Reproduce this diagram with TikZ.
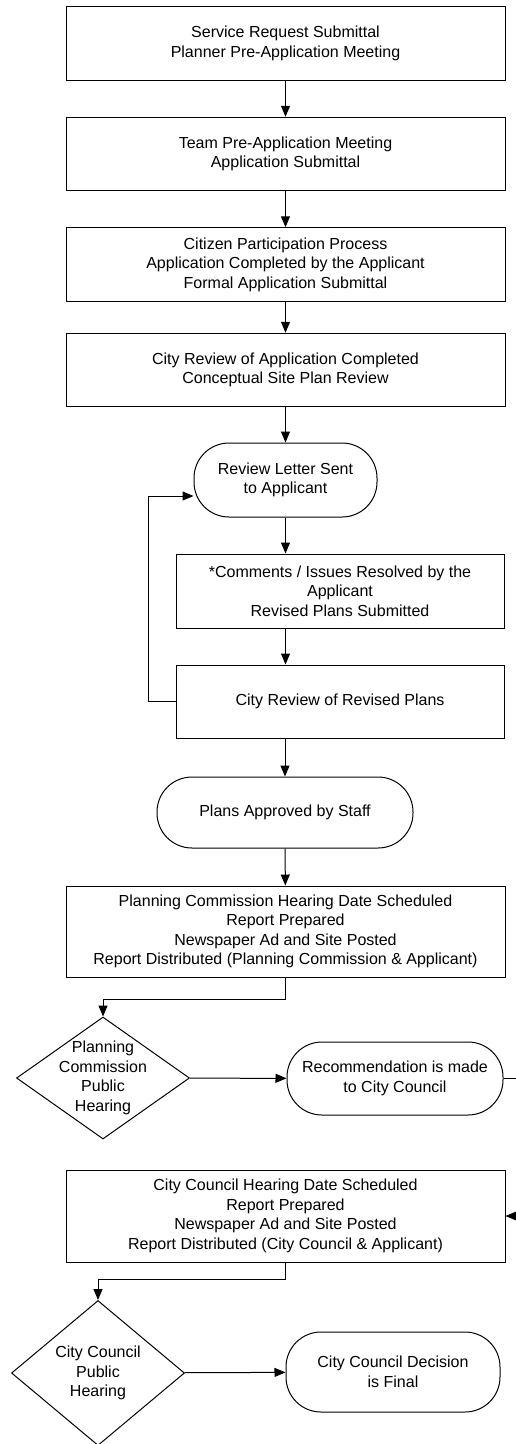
\documentclass[tikz,border=0pt]{standalone}
\usepackage{fontspec}
\setmainfont{Liberation Sans}
\usetikzlibrary{arrows.meta,shapes.geometric}

\begin{document}
\begin{tikzpicture}
[x=1pt,y=-1pt,
 font=\fontsize{16}{19.5}\selectfont,
 boxdecorate/.style={shape=rectangle,draw,line width=1pt,align=center,inner sep=0pt,minimum width=439pt,minimum height=73.5pt},%
 termdecorate/.style={shape=rectangle,rounded corners=35pt,draw,line width=1pt,align=center,inner sep=0pt},%
 decidedecorate/.style={shape=diamond,draw,line width=1pt,inner sep=0pt},%
 linedecorate/.style={-{Triangle[length=11pt,width=9pt]},line width=1pt}]
\useasboundingbox (0,0) rectangle (516,1444);
%% main column of boxes
\foreach \nodename/\y/\nodetext in {%
  srvreq/43.5/{Service Request Submittal\\Planner Pre-Application Meeting},
  teammeet/154/{Team Pre-Application Meeting\\Application Submittal},
  citizen/264.5/{Citizen Participation Process\\Application Completed by the Applicant\\Formal Application Submittal},
  cityrev/370/{City Review of Application Completed\\Conceptual Site Plan Review}} {
  \node (\nodename) at (285.5,\y) [boxdecorate] {\nodetext};
}
%% review loop
\node (letter) at (285.5,480) [termdecorate,minimum width=183pt,minimum height=74pt] {Review Letter Sent\\to Applicant};
\node (comments) at (340,591) [boxdecorate,minimum width=328pt,minimum height=74pt] {*Comments / Issues Resolved by the\\Applicant\\Revised Plans Submitted};
\node (revplans) at (340,701.5) [boxdecorate,minimum width=328pt,minimum height=73pt] {City Review of Revised Plans};
\node (approved) at (285,812.5) [termdecorate,minimum width=256pt,minimum height=71pt] {Plans Approved by Staff};
%% planning commission
\node (pcbox) at (285.5,931.5) [boxdecorate,minimum height=91pt] {Planning Commission Hearing Date Scheduled\\Report Prepared\\Newspaper Ad and Site Posted\\Report Distributed (Planning Commission \& Applicant)};
\node (pchear) at (103,1078) [decidedecorate,minimum width=173pt,minimum height=122pt,
  label={[align=center]center:Planning\\Commission\\Public\\Hearing}] {};
\node (recommend) at (395,1078.5) [termdecorate,minimum width=216pt,minimum height=73pt] {Recommendation is made\\to City Council};
%% city council
\node (ccbox) at (285.5,1216) [boxdecorate,minimum height=92pt] {City Council Hearing Date Scheduled\\Report Prepared\\Newspaper Ad and Site Posted\\Report Distributed (City Council \& Applicant)};
\node (cchear) at (98,1373) [decidedecorate,minimum width=173pt,minimum height=145pt,
  label={[align=center]center:City Council\\Public\\Hearing}] {};
\node (decision) at (393,1372) [termdecorate,minimum width=214pt,minimum height=80pt] {City Council Decision\\is Final};
%% edges or lines
\path
\foreach \startnode/\endnode in {srvreq/teammeet, teammeet/citizen, citizen/cityrev, cityrev/letter, approved/pcbox, pchear/recommend, cchear/decision} {
  (\startnode) edge[linedecorate] (\endnode)
};
\draw[linedecorate] (letter.south) -- (letter.south |- comments.north);
\draw[linedecorate] (letter.south |- comments.south) -- (letter.south |- revplans.north);
\draw[linedecorate] (approved.north |- revplans.south) -- (approved.north);
\draw[linedecorate] (revplans.west) -- ++(-27pt,0) |- ([yshift=-16pt]letter.west);
\draw[linedecorate] (pcbox.south) -- ++(0,-22pt) -| (pchear.north);
\draw[linedecorate] (recommend.east) -- ++(30pt,0) |- (ccbox.east);
\draw[linedecorate] (ccbox.south) -- ++(0,-17pt) -| (cchear.north);
\end{tikzpicture}
\end{document}
